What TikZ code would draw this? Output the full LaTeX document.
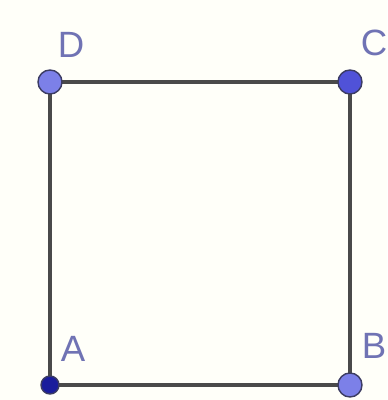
\documentclass[tikz,border=0pt]{standalone}
\usepackage{fontspec}
\setmainfont{Liberation Sans}
\usepackage{xcolor}
\usepackage{tikz}
\usetikzlibrary{positioning}

\definecolor{edgegray}{HTML}{4A4A4A}
\definecolor{ptlight}{HTML}{7C80E8}
\definecolor{ptmid}{HTML}{5052D8}
\definecolor{ptdark}{HTML}{1A1C9C}
\definecolor{lblblue}{HTML}{7073B4}
\definecolor{paper}{HTML}{FFFFF9}

\begin{document}
\begin{tikzpicture}[x=0.025cm, y=0.025cm,
  side/.style={draw=edgegray, line width=3pt},
  pt/.style={circle, draw=edgegray!70!ptdark, line width=1pt, inner sep=0pt, minimum size=0.6cm},
  lbl/.style={text=lblblue, font=\fontsize{26}{30}\selectfont}]

% Frame
\clip (0,0) rectangle (387,400);
\fill[paper] (0,0) rectangle (387,400);

% Corners
\coordinate (A) at (50,15);
\coordinate (B) at (350,15);
\coordinate (C) at (350,318);
\coordinate (D) at (50,318);

% Sides
\draw[side] (A) -- (B) -- (C) -- (D) -- cycle;

% Points
\node[pt, fill=ptdark, minimum size=0.45cm] (pA) at (A) {};
\node[pt, fill=ptlight] (pB) at (B) {};
\node[pt, fill=ptmid] (pC) at (C) {};
\node[pt, fill=ptlight] (pD) at (D) {};

% Labels
\node[lbl] (lA) at (73,51) {A};
\node[lbl] (lB) at (374,54) {B};
\node[lbl] (lC) at (374,357) {C};
\node[lbl] (lD) at (71,355) {D};

\end{tikzpicture}
\end{document}
